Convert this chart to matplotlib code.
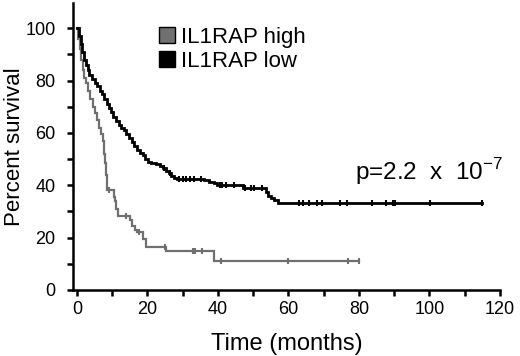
import numpy as np
import matplotlib.pyplot as plt

plt.rcParams['font.family'] = ['Liberation Sans', 'DejaVu Sans']

# Curva IL1RAP low (negro): tiempos de evento y supervivencia tras el evento
tiempo_low = [0, 0.5, 1.0, 1.5, 2.0, 2.5, 3.0, 3.5, 4.2, 5.0, 5.8, 6.5, 7.2, 7.8,
              8.4, 9.0, 9.6, 10.3, 11.0, 11.8, 12.6, 13.3, 14.0, 14.8, 15.5, 16.2,
              17.0, 17.8, 18.6, 19.4, 20.2, 21.0, 22.5, 23.5, 24.5, 25.3, 26.0,
              26.8, 27.6, 28.5, 36.0, 37.5, 38.8, 39.6, 47.0, 53.5, 54.3, 55.0,
              56.0, 57.0]
surv_low = [100, 97, 94, 91, 88, 86, 84, 82, 80.5, 79, 78, 76, 75, 73,
            71, 69.5, 68, 66, 64.5, 63, 62, 61, 59.5, 58, 56.5, 55,
            53.5, 52.5, 51.5, 50, 49, 48.5, 48, 47.3, 46.5, 45.5, 44.5,
            43.5, 42.9, 42.4, 41.9, 41.3, 40.8, 40.2, 39.0, 37.5, 36, 35,
            34.2, 33.2]
fin_low = 115
cens_low = [24.8, 26.3, 29.0, 30.0, 31.0, 32.2, 33.3, 35.2, 40.5, 41.2, 42.3, 44.5,
            47.6, 49.5, 50.3, 52.5, 63.0, 64.2, 65.8, 68.2, 69.6, 74.6, 76.5,
            83.6, 87.6, 89.6, 90.2, 100.1, 115]

# Curva IL1RAP high (gris)
tiempo_high = [0, 0.4, 0.8, 1.2, 1.6, 2.0, 2.6, 3.2, 3.8, 4.4, 5.0, 5.6, 6.2, 6.8,
               7.3, 7.7, 8.0, 8.3, 8.6, 10.4, 10.8, 11.2, 11.7, 15.0, 15.6, 16.4,
               17.0, 18.8, 19.6, 25.2, 38.8]
surv_high = [100, 96, 92, 88, 84, 81, 79, 76, 73, 70, 67.5, 65, 62, 59.5,
             57, 52, 48.6, 44, 38.3, 35.5, 34, 31, 28.4, 26.8, 24.5, 23,
             22.3, 19.5, 16.6, 15, 11.2]
fin_high = 80
cens_high = [9.0, 14.0, 17.6, 25.0, 33.0, 33.6, 35.5, 41.0, 60.0, 77.0, 80.0]

p_texto = r'p=2.2  x  10$^{\mathregular{-7}}$'


def valor_en(t, tiempos, surv):
    i = np.searchsorted(tiempos, t, side='right') - 1
    return np.asarray(surv)[i]


fig = plt.figure(figsize=(5.2, 3.56), dpi=100)
ax = fig.add_axes([0.1413, 0.1854, 0.82, 0.806])

curvas = [
    (tiempo_high, surv_high, fin_high, cens_high, '#707070', 1.6, 'IL1RAP high'),
    (tiempo_low, surv_low, fin_low, cens_low, 'black', 2.0, 'IL1RAP low'),
]
for tiempos, surv, fin, cens, color, lw, nombre in curvas:
    x = list(tiempos) + [fin]
    y = list(surv) + [surv[-1]]
    ax.step(x, y, where='post', color=color, lw=lw, solid_joinstyle='miter')
    cens = np.array(cens)
    ax.plot(cens, valor_en(cens, tiempos, surv), ls='none', marker='|',
            ms=5, mew=1.5, color=color)
    ax.plot([], [], ls='none', marker='s', ms=11, mfc=color, mec='black',
            mew=1.0, label=nombre)

ax.set_xlim(-1, 120)
ax.set_ylim(0, 109.6)
ax.set_xticks(range(0, 121, 20))
ax.set_xticks(range(0, 121, 10), minor=True)
ax.set_yticks(range(0, 101, 20))
ax.set_yticks(range(0, 101, 10), minor=True)
for lado in ['top', 'right']:
    ax.spines[lado].set_visible(False)
for lado in ['left', 'bottom']:
    ax.spines[lado].set_linewidth(1.8)
ax.tick_params(which='both', direction='out', width=1.8, length=4, labelsize=13)
ax.tick_params(axis='x', pad=4)
ax.tick_params(axis='y', pad=9)

ax.set_xlabel('Time (months)', fontsize=17, labelpad=11)
ax.set_ylabel('Percent survival', fontsize=16, labelpad=0)

ax.text(79, 42, p_texto, fontsize=17.5, va='baseline')

ax.legend(loc='upper left', bbox_to_anchor=(0.175, 0.955), frameon=False,
          fontsize=16, handlelength=0.7, handletextpad=0.3, labelspacing=0.12,
          borderpad=0)

fig.savefig('out.png', dpi=100)
